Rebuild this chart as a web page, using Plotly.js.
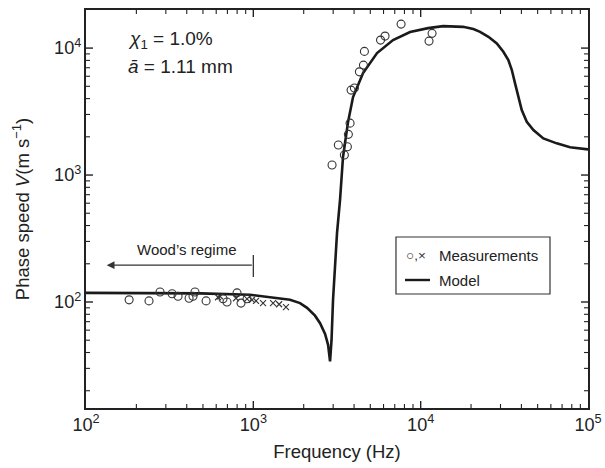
<!DOCTYPE html>
<html>
<head>
<meta charset="utf-8">
<script src="https://cdn.plot.ly/plotly-3.0.1.min.js"></script>
<style>html,body{margin:0;padding:0;background:#fff;}#chart{width:605px;height:468px;}</style>
</head>
<body>
<div id="chart"></div>
<script>
// Model curve (frequency Hz, phase speed m/s)
var modelF = [100, 241, 480, 955, 1259, 1657, 1901, 2094, 2337, 2505, 2684, 2797, 2874, 2933, 2994, 3077, 3163, 3296, 3435, 3680, 3943, 4527, 5486, 6838, 8642, 11080, 13620, 17920, 20650, 22650, 25400, 28510, 31200, 33420, 35060, 36650, 38370, 40180, 43060, 47180, 54090, 65010, 78110, 100000];
var modelV = [118, 118, 117, 114, 109, 104, 98, 90, 78, 68, 56, 46, 34, 50, 104, 214, 349, 635, 1387, 2611, 4110, 6350, 9140, 11560, 13370, 14360, 14890, 14700, 14120, 13430, 12270, 10890, 9360, 8050, 6720, 5270, 4020, 3250, 2630, 2260, 1944, 1776, 1653, 1592];

// Measurements (circles)
var circF = [181, 238, 277, 327, 355, 413, 436, 448, 522, 659, 696, 799, 844, 917, 2954, 3221, 3500, 3648, 3698, 3785, 3838, 4018, 4305, 4550, 4611, 5757, 6125, 7638, 11220, 11700];
var circV = [104, 102, 120, 116, 111, 107, 111, 120, 102, 106, 100, 118, 98, 106, 1199, 1722, 1437, 1672, 2091, 2564, 4667, 4842, 6500, 7345, 9420, 11560, 12430, 15450, 11350, 13060];

// Measurements (crosses)
var crossF = [615, 632, 788, 917, 982, 1038, 1143, 1312, 1426, 1567];
var crossV = [109, 111, 107, 106, 104, 102, 98, 98, 96, 91];

// Tick positions
var minorX = [200, 300, 400, 500, 600, 700, 800, 900, 2000, 3000, 4000, 5000, 6000, 7000, 8000, 9000, 20000, 30000, 40000, 50000, 60000, 70000, 80000, 90000];
var minorY = [20, 30, 40, 50, 60, 70, 80, 90, 200, 300, 400, 500, 600, 700, 800, 900, 2000, 3000, 4000, 5000, 6000, 7000, 8000, 9000];
var majorX = [1000, 10000];
var majorY = [100, 1000, 10000];

// Wood's regime arrow (frequency from, to; speed level; bar ends)
var woodF = [1000, 133];
var woodV = 195;
var woodBar = [157, 235];

var xRange = [2, 5];
var yRange = [1.165, 4.30];

var ink = '#222';
var font = 'Liberation Sans, Arial, Helvetica, sans-serif';

var traces = [
  {x: modelF, y: modelV, type: 'scatter', mode: 'lines', line: {color: '#1a1a1a', width: 2.6}, showlegend: false, hoverinfo: 'skip'},
  {x: circF, y: circV, type: 'scatter', mode: 'markers', marker: {symbol: 'circle-open', size: 8, color: '#333', line: {width: 1.1, color: '#333'}}, showlegend: false},
  {x: crossF, y: crossV, type: 'scatter', mode: 'markers', marker: {symbol: 'x-thin-open', size: 6, color: '#333', line: {width: 1.1, color: '#333'}}, showlegend: false}
];

var L = Math.log10;
var P = function (e) { return Math.pow(10, e); };

var axisCommon = {
  type: 'log', dtick: 1, exponentformat: 'power',
  showline: true, mirror: true, linecolor: ink, linewidth: 1.8,
  ticks: '', showgrid: false, zeroline: false,
  tickfont: {family: font, size: 14.5, color: '#222'}
};

var shapes = [
  // Wood's regime bar at 10^3
  {type: 'line', xref: 'x', yref: 'y', x0: woodF[0], x1: woodF[0], y0: woodBar[0], y1: woodBar[1], line: {color: '#333', width: 1.3}},
  // legend box
  {type: 'rect', xref: 'paper', yref: 'paper', x0: 0.6175, x1: 0.9243, y0: 0.2864, y1: 0.4296, line: {color: '#333', width: 1.2}, fillcolor: 'rgba(0,0,0,0)'},
  // legend model sample
  {type: 'line', xref: 'paper', yref: 'paper', x0: 0.6355, x1: 0.6853, y0: 0.3216, y1: 0.3216, line: {color: '#1a1a1a', width: 2.4}}
];

// inside ticks on all four sides (lengths in decades: px / px-per-decade)
var xDec = 167.3, yDec = 127;
function addXTicks(vals, len, w) {
  var d = len / yDec;
  vals.forEach(function (v) {
    shapes.push({type: 'line', xref: 'x', yref: 'y', x0: v, x1: v, y0: P(yRange[0]), y1: P(yRange[0] + d), line: {color: ink, width: w}});
    shapes.push({type: 'line', xref: 'x', yref: 'y', x0: v, x1: v, y0: P(yRange[1] - d), y1: P(yRange[1]), line: {color: ink, width: w}});
  });
}
function addYTicks(vals, len, w) {
  var d = len / xDec;
  vals.forEach(function (v) {
    shapes.push({type: 'line', xref: 'x', yref: 'y', y0: v, y1: v, x0: P(xRange[0]), x1: P(xRange[0] + d), line: {color: ink, width: w}});
    shapes.push({type: 'line', xref: 'x', yref: 'y', y0: v, y1: v, x0: P(xRange[1] - d), x1: P(xRange[1]), line: {color: ink, width: w}});
  });
}
addXTicks(minorX, 4, 1.1);
addYTicks(minorY, 4, 1.1);
addXTicks(majorX, 7, 1.4);
addYTicks(majorY, 7, 1.4);

var layout = {
  width: 605, height: 468,
  margin: {l: 86, r: 17, t: 10, b: 60},
  paper_bgcolor: '#fff', plot_bgcolor: '#fff',
  font: {family: font, color: '#222'},
  xaxis: Object.assign({}, axisCommon, {
    range: xRange,
    title: {text: 'Frequency (Hz)', font: {family: font, size: 18.5, color: '#222'}, standoff: 11}
  }),
  yaxis: Object.assign({}, axisCommon, {
    range: yRange,
    title: {text: 'Phase speed <i>V</i>(m s<sup>\u22121</sup>)', font: {family: font, size: 18.5, color: '#222'}, standoff: 20}
  }),
  shapes: shapes,
  annotations: [
    {x: L(woodF[1]), y: L(woodV), ax: L(woodF[0]), ay: L(woodV), xref: 'x', yref: 'y', axref: 'x', ayref: 'y', text: '', showarrow: true, arrowhead: 2, arrowsize: 1.3, arrowwidth: 1.2, arrowcolor: '#333'},
    {x: 0.2006, y: 0.3990, xref: 'paper', yref: 'paper', text: 'Wood\u2019s regime', showarrow: false, xanchor: 'center', yanchor: 'middle', font: {family: font, size: 15, color: '#222'}},
    {x: 0.0797, y: 0.9246, xref: 'paper', yref: 'paper', text: '<i>\u03c7</i><sub>1</sub> = 1.0%', showarrow: false, xanchor: 'left', yanchor: 'middle', font: {family: font, size: 19, color: '#222'}},
    {x: 0.0797, y: 0.8590, xref: 'paper', yref: 'paper', text: '<i>\u0101</i> = 1.11 mm', showarrow: false, xanchor: 'left', yanchor: 'middle', font: {family: font, size: 19, color: '#222'}},
    {x: 0.657, y: 0.3844, xref: 'paper', yref: 'paper', text: '\u25cb,\u00d7', showarrow: false, xanchor: 'center', yanchor: 'middle', font: {family: font, size: 13.5, color: '#333'}},
    {x: 0.6992, y: 0.3844, xref: 'paper', yref: 'paper', text: 'Measurements', showarrow: false, xanchor: 'left', yanchor: 'middle', font: {family: font, size: 15, color: '#222'}},
    {x: 0.6992, y: 0.3216, xref: 'paper', yref: 'paper', text: 'Model', showarrow: false, xanchor: 'left', yanchor: 'middle', font: {family: font, size: 15, color: '#222'}}
  ]
};

Plotly.newPlot('chart', traces, layout, {staticPlot: true, displayModeBar: false});
</script>
</body>
</html>
